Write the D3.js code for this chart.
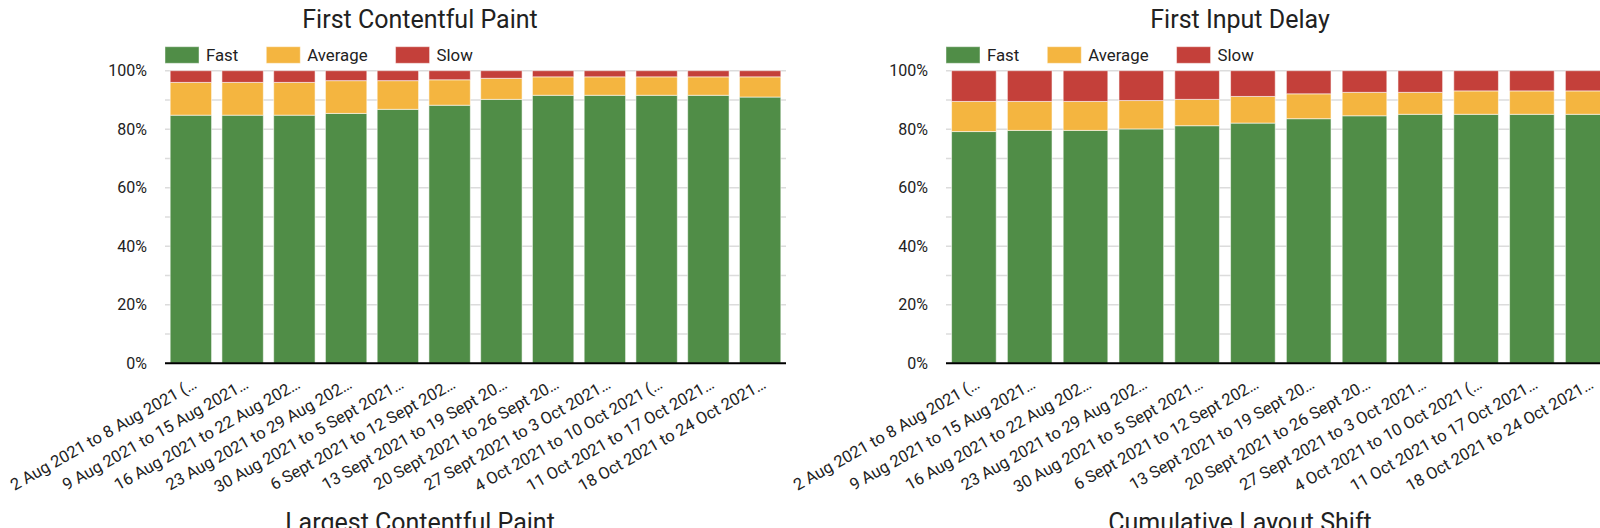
<!DOCTYPE html>
<html>
<head>
<meta charset="utf-8">
<script src="https://cdn.jsdelivr.net/npm/d3@7"></script>
<style>
  html, body { margin: 0; padding: 0; background: #fff; overflow: hidden; }
  svg { display: block; font-family: Roboto, "Noto Sans", sans-serif; }
</style>
</head>
<body>
<svg id="chart" width="1600" height="528"></svg>
<script>
// ---- Data ----
const categories = [
  "2 Aug 2021 to 8 Aug 2021 (…",
  "9 Aug 2021 to 15 Aug 2021…",
  "16 Aug 2021 to 22 Aug 202…",
  "23 Aug 2021 to 29 Aug 202…",
  "30 Aug 2021 to 5 Sept 2021…",
  "6 Sept 2021 to 12 Sept 202…",
  "13 Sept 2021 to 19 Sept 20…",
  "20 Sept 2021 to 26 Sept 20…",
  "27 Sept 2021 to 3 Oct 2021…",
  "4 Oct 2021 to 10 Oct 2021 (…",
  "11 Oct 2021 to 17 Oct 2021…",
  "18 Oct 2021 to 24 Oct 2021…"
];
const seriesNames = ["Fast", "Average", "Slow"];
const seriesColors = ["#508d47", "#f4b540", "#c4403a"];

const fcpFast    = [84.8, 84.8, 84.8, 85.4, 86.8, 88.2, 90.2, 91.6, 91.6, 91.6, 91.6, 91.0];
const fcpAverage = [11.2, 11.2, 11.2, 11.2,  9.8,  8.7,  7.2,  6.3,  6.3,  6.3,  6.3,  6.9];
const fcpSlow    = [ 4.0,  4.0,  4.0,  3.4,  3.4,  3.1,  2.6,  2.1,  2.1,  2.1,  2.1,  2.1];

const fidFast    = [79.2, 79.6, 79.6, 80.1, 81.2, 82.1, 83.6, 84.6, 85.1, 85.1, 85.1, 85.1];
const fidAverage = [10.3,  9.9,  9.9,  9.7,  9.0,  9.1,  8.5,  8.0,  7.5,  8.0,  8.0,  8.0];
const fidSlow    = [10.5, 10.5, 10.5, 10.2,  9.8,  8.8,  7.9,  7.4,  7.4,  6.9,  6.9,  6.9];

const yTickValues = [0, 20, 40, 60, 80, 100];
const yGridValues = [0, 10, 20, 30, 40, 50, 60, 70, 80, 90, 100];

const charts = [
  { title: "First Contentful Paint", nextTitle: "Largest Contentful Paint",
    fast: fcpFast, average: fcpAverage, slow: fcpSlow,
    x0: 165, x1: 786, titleX: 420 },
  { title: "First Input Delay", nextTitle: "Cumulative Layout Shift",
    fast: fidFast, average: fidAverage, slow: fidSlow,
    x0: 946, x1: 1615.6, titleX: 1240 }
];

// ---- Drawing ----
const svg = d3.select("#chart");
const yTop = 70.7, yBottom = 363.3;

charts.forEach(cfg => {
  const g = svg.append("g");
  const x = d3.scaleBand().domain(categories).range([cfg.x0, cfg.x1])
    .paddingInner(0.2).paddingOuter(0.1);
  const y = d3.scaleLinear().domain([0, 100]).range([yBottom, yTop]);

  // title
  g.append("text").attr("x", cfg.titleX).attr("y", 27.5)
    .attr("text-anchor", "middle").attr("font-size", 25).attr("fill", "#212121")
    .text(cfg.title);
  // next chart title (cut off at the bottom edge, as in the reference)
  g.append("text").attr("x", cfg.titleX).attr("y", 530.5)
    .attr("text-anchor", "middle").attr("font-size", 25).attr("fill", "#212121")
    .text(cfg.nextTitle);

  // legend
  let lx = cfg.x0;
  seriesNames.forEach((name, i) => {
    g.append("rect").attr("x", lx).attr("y", 46.7).attr("width", 34).attr("height", 16.6)
      .attr("fill", seriesColors[i]).attr("stroke", "#fff").attr("stroke-opacity", 0.45);
    const t = g.append("text").attr("x", lx + 41).attr("y", 60.7)
      .attr("font-size", 16.8).attr("fill", "#222").text(name);
    lx += 41 + t.node().getComputedTextLength() + 28;
  });

  // gridlines
  g.append("g").selectAll("line").data(yGridValues).join("line")
    .attr("x1", cfg.x0).attr("x2", cfg.x1)
    .attr("y1", d => y(d)).attr("y2", d => y(d))
    .attr("stroke", "#dcdcdc").attr("stroke-width", 1.5);

  // y axis labels
  const yAxis = d3.axisLeft(y).tickValues(yTickValues).tickFormat(d => d + "%")
    .tickSize(0).tickPadding(18);
  const ya = g.append("g").attr("transform", `translate(${cfg.x0},0)`).call(yAxis);
  ya.select(".domain").remove();
  ya.selectAll("text").attr("font-size", 16).attr("fill", "#222")
    .attr("font-family", "Roboto, sans-serif");

  // stacked bars
  const rows = categories.map((c, i) => ({ cat: c, Fast: cfg.fast[i], Average: cfg.average[i], Slow: cfg.slow[i] }));
  const stack = d3.stack().keys(seriesNames)(rows);
  g.append("g").selectAll("g").data(stack).join("g")
    .attr("fill", (d, i) => seriesColors[i])
    .selectAll("rect").data(d => d).join("rect")
      .attr("x", d => x(d.data.cat))
      .attr("width", x.bandwidth())
      .attr("y", d => y(d[1]))
      .attr("height", d => y(d[0]) - y(d[1]))
      .attr("stroke", "#fff").attr("stroke-width", 1).attr("stroke-opacity", 0.55);

  // baseline
  g.append("line").attr("x1", cfg.x0).attr("x2", cfg.x1)
    .attr("y1", yBottom).attr("y2", yBottom)
    .attr("stroke", "#000").attr("stroke-width", 2);

  // x labels
  const xAxis = d3.axisBottom(x).tickSize(0).tickPadding(0);
  const xa = g.append("g").attr("transform", `translate(0,${yBottom})`).call(xAxis);
  xa.select(".domain").remove();
  xa.selectAll("text")
    .attr("font-size", 16.5).attr("fill", "#222").attr("font-family", "Roboto, sans-serif")
    .attr("text-anchor", "end").attr("y", 0).attr("dy", 0)
    .attr("transform", "translate(7,24) rotate(-29.5)");
});
</script>
</body>
</html>
